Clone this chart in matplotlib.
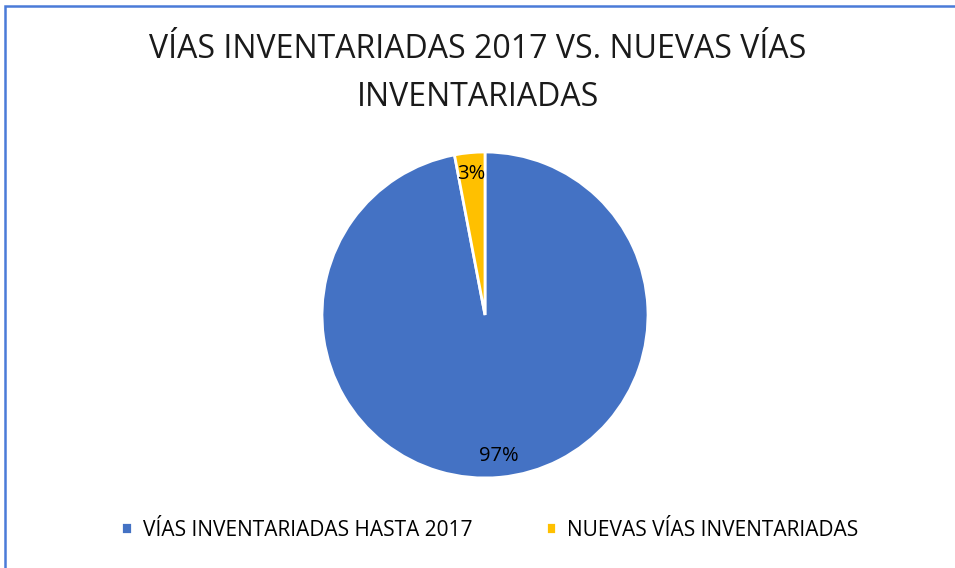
import matplotlib.pyplot as plt
from matplotlib.patches import Rectangle

categorias = ['VÍAS INVENTARIADAS HASTA 2017', 'NUEVAS VÍAS INVENTARIADAS']
valores = [97, 3]
colores = ['#4472C4', '#FFC000']
titulo = 'VÍAS INVENTARIADAS 2017 VS. NUEVAS VÍAS\nINVENTARIADAS'

plt.rcParams['font.family'] = ['Open Sans', 'DejaVu Sans']

fig = plt.figure(figsize=(9.55, 5.68), dpi=100)

# borde azul del gráfico (arriba e izquierda)
fig.add_artist(Rectangle((5 / 955, -0.1), 1.2, (568 - 6) / 568 + 0.1,
                         transform=fig.transFigure, fill=False,
                         edgecolor='#4A7BD8', linewidth=1.8))

ax = fig.add_axes([(485 - 163) / 955, (568 - 478) / 568, 326 / 955, 326 / 568])
wedges, texts, autotexts = ax.pie(valores, colors=colores, startangle=90,
                                  counterclock=False, autopct='%1.0f%%',
                                  pctdistance=0.87,
                                  wedgeprops=dict(edgecolor='white', linewidth=2),
                                  textprops=dict(fontsize=14.5, color='black'))
ax.set_xlim(-1.0, 1.0)
ax.set_ylim(-1.0, 1.0)
ax.set_aspect('equal')

fig.text(478 / 955, 1 - 73 / 568, titulo, ha='center', va='center', fontsize=23,
         linespacing=1.6, color='#1a1a1a')

leg = fig.legend(wedges, categorias, loc='center', ncol=2,
                 bbox_to_anchor=(490 / 955, 1 - 530 / 568), frameon=False,
                 fontsize=15, handlelength=0.5, handleheight=0.5,
                 columnspacing=3.5, handletextpad=0.55)

fig.savefig('out.png', dpi=100)
